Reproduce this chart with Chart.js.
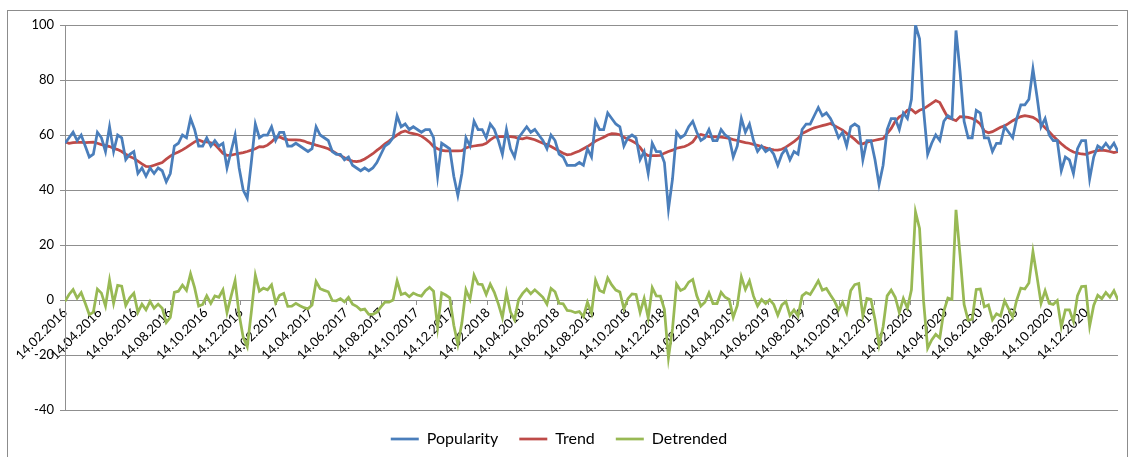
<!DOCTYPE html>
<html>
<head>
<meta charset="utf-8">
<script src="https://cdn.jsdelivr.net/npm/chart.js@4.4.1/dist/chart.umd.min.js"></script>
<style>
  html, body { margin: 0; padding: 0; background: #fff; }
  #wrap { position: relative; width: 1134px; height: 457px; }
  #frame { position: absolute; left: 7px; top: 10px; width: 1119px; height: 446px; border: 1px solid #8c8c8c; pointer-events: none; }
</style>
</head>
<body>
<div id="wrap">
  <canvas id="chart" width="1134" height="457"></canvas>
  <div id="frame"></div>
</div>
<script>
// weekly values, first week starts 14.02.2016
const startDate = Date.UTC(2016, 1, 14);

const popularity = [
  57,59,61,58,60,56,52,53,61,59, 54,63,54,60,59,51,53,54,46,48,
  45,48,46,48,47,43,46,56,57,60, 59,66,62,56,56,59,56,58,56,57,
  48,54,60,48,40,37,50,64,59,60, 60,63,58,61,61,56,56,57,56,55,
  54,55,63,60,59,58,54,53,53,51, 52,49,48,47,48,47,48,50,53,56,
  57,59,67,63,64,62,63,62,61,62, 62,59,45,57,56,55,45,38,46,59,
  56,65,62,62,59,64,62,58,53,62, 55,52,59,61,63,61,62,60,58,55,
  60,58,53,52,49,49,49,50,49,55, 52,65,62,62,68,66,64,63,56,59,
  60,59,51,54,46,57,54,54,50,33, 44,61,59,60,63,65,61,58,59,62,
  58,58,62,60,59,52,56,66,61,64, 58,54,56,54,55,53,49,53,55,51,
  54,53,62,64,64,67,70,67,68,66, 63,59,61,56,63,64,63,51,58,58,
  51,42,49,62,66,66,62,68,66,73, 100,95,69,53,57,60,58,65,67,66,
  98,83,65,59,59,69,68,59,59,54, 57,57,63,61,59,66,71,71,73,84,
  74,63,66,60,58,58,47,52,51,46, 55,58,58,44,52,56,55,57,55,57,
  54
];

const trend = [
  57.5,57,57.2,57.3,57.3,57.2,57.3,57.4,57,56.5, 56.2,55.8,55.2,54.7,54,53,52.2,51.5,50.5,49.5,
  48.6,48.5,49,49.5,50,51.2,52.3,53.2,53.8,54.6, 55.5,56.5,57.5,58.2,57.6,57.5,57.2,56.5,55,53.3,
  52.6,52.7,53,53.3,53.6,54,54.5,55,55.8,55.7, 56.3,57.5,59,59.3,58.6,58.3,58.2,58.2,58.1,57.8,
  57.2,56.8,56.3,55.9,55.5,55,54.2,53.3,52.5,51.7, 51,50.5,50.3,50.6,51.3,52.2,53.2,54.4,55.5,56.8,
  57.8,59,60,61,61.5,60.8,60.5,60.2,59.6,58.6, 57.4,55.8,55,54.4,54.2,54.2,54.2,54.2,54.3,55.3,
  55.8,56,56.2,56.4,57,58.2,59.2,59.4,59.4,59.4, 59.4,59.2,58.8,58.6,59,58.7,58.3,57.6,57,56.5,
  55.8,55,54.2,53.4,52.8,53,53.6,54.2,55,55.8, 56.8,57.8,58.5,59.2,60,60.5,60.4,60.1,59.2,58.5,
  57.8,57,55.5,53.4,52.5,52.5,52.5,52.6,53.4,54, 54.5,55.2,55.5,55.8,56.5,57.5,59.5,60.2,59.8,59.4,
  59.3,59.3,59.2,59,58.8,58.3,58,57.6,57.2,57, 56.6,56.2,55.8,55.3,54.9,54.6,54.5,54.8,55.6,56.6,
  57.6,58.8,60.5,61.3,62,62.6,63,63.4,63.8,64.2, 63.4,62.6,61.8,60.6,59.6,58.4,57,56.8,57.4,57.8,
  58.1,58.4,58.7,60.5,62.4,65,66.6,67.4,69,69.3, 68,69,69.5,70.5,71.5,72.5,71.8,69,66.3,65.8,
  65.2,66.7,66.6,66.4,66,65.2,64,61.5,60.8,61.2, 62,62.8,63.3,64.2,65.2,66,66.7,67,66.8,66.4,
  65.5,64.2,62.6,61.2,59.6,58.2,56.8,55.6,54.6,53.8, 53.4,53.1,53,53.5,54,54.3,54.5,54.3,54,53.6,
  54
];

const detrended = [
  -0.5,2,3.8,0.7,2.7,-1.2,-5.3,-4.4,4,2.5, -2.2,7.2,-1.2,5.3,5,-2,0.8,2.5,-4.5,-1.5,
  -3.6,-0.5,-3,-1.5,-3,-8.2,-6.3,2.8,3.2,5.4, 3.5,9.5,4.5,-2.2,-1.6,1.5,-1.2,1.5,1,3.7,
  -4.6,1.3,7,-5.3,-13.6,-17,-4.5,9,3.2,4.3, 3.7,5.5,-1,1.7,2.4,-2.3,-2.2,-1.2,-2.1,-2.8,
  -3.2,-1.8,6.7,4.1,3.5,3,-0.2,-0.3,0.5,-0.7, 1,-1.5,-2.3,-3.6,-3.3,-5.2,-5.2,-4.4,-2.5,-0.8,
  -0.8,0,7,2,2.5,1.2,2.5,1.8,1.4,3.4, 4.6,3.2,-10,2.6,1.8,0.8,-9.2,-16.2,-8.3,3.7,
  0.2,9,5.8,5.6,2,5.8,2.8,-1.4,-6.4,2.6, -4.4,-7.2,0.2,2.4,4,2.3,3.7,2.4,1,-1.5,
  4.2,3,-1.2,-1.4,-3.8,-4,-4.6,-4.2,-6,-0.8, -4.8,7.2,3.5,2.8,8,5.5,3.6,2.9,-3.2,0.5,
  2.2,2,-4.5,0.6,-6.5,4.5,1.5,1.4,-3.4,-21, -10.5,5.8,3.5,4.2,6.5,7.5,1.5,-2.2,-0.8,2.6,
  -1.3,-1.3,2.8,1,0.2,-6.3,-2,8.4,3.8,7, 1.4,-2.2,0.2,-1.3,0.1,-1.6,-5.5,-1.8,-0.6,-5.6,
  -3.6,-5.8,1.5,2.7,2,4.4,7,3.6,4.2,1.8, -0.4,-3.6,-0.8,-4.6,3.4,5.6,6,-5.8,0.6,0.2,
  -7.1,-16.4,-9.7,1.5,3.6,1,-4.6,0.6,-3,3.7, 32,26,-0.5,-17.5,-14.5,-12.5,-13.8,-4,0.7,0.2,
  32.8,16.3,-1.6,-7.4,-7,3.8,4,-2.5,-1.8,-7.2, -5,-5.8,-0.3,-3.2,-6.2,0,4.3,4,6.2,17.6,
  8.5,-1.2,3.4,-1.2,-1.6,-0.2,-9.8,-3.6,-3.6,-7.8, 1.6,4.9,5,-9.5,-2,1.7,0.5,2.7,1,3.4,
  0
];

const tickLabels = [
  "14.02.2016","14.04.2016","14.06.2016","14.08.2016","14.10.2016","14.12.2016",
  "14.02.2017","14.04.2017","14.06.2017","14.08.2017","14.10.2017","14.12.2017",
  "14.02.2018","14.04.2018","14.06.2018","14.08.2018","14.10.2018","14.12.2018",
  "14.02.2019","14.04.2019","14.06.2019","14.08.2019","14.10.2019","14.12.2019",
  "14.02.2020","14.04.2020","14.06.2020","14.08.2020","14.10.2020","14.12.2020"
];

// day offset of a dd.mm.yyyy label from the first week
function dayOf(label) {
  const [d, m, y] = label.split(".").map(Number);
  return (Date.UTC(y, m - 1, d) - startDate) / 86400000;
}
const tickDays = tickLabels.map(dayOf);
const toPoints = (arr) => arr.map((v, i) => ({ x: i * 7, y: v }));

const font = "Lato, 'Liberation Sans', sans-serif";
const gridColor = "#8f8f8f";

let ctx = document.getElementById("chart").getContext("2d");

const myChart = new Chart(ctx, {
  type: "line",
  data: {
    datasets: [
      { label: "Popularity", data: toPoints(popularity), borderColor: "#4a7ebb", backgroundColor: "#4a7ebb", borderWidth: 2.75, pointRadius: 0, pointStyle: "line" },
      { label: "Trend", data: toPoints(trend), borderColor: "#be4b48", backgroundColor: "#be4b48", borderWidth: 2.75, pointRadius: 0, pointStyle: "line" },
      { label: "Detrended", data: toPoints(detrended), borderColor: "#98b954", backgroundColor: "#98b954", borderWidth: 2.75, pointRadius: 0, pointStyle: "line" },
    ],
  },
  options: {
    responsive: false,
    animation: false,
    layout: { padding: { left: 0, right: 16, top: 25, bottom: 0 } },
    plugins: {
      legend: {
        position: "bottom",
        labels: {
          usePointStyle: true,
          pointStyleWidth: 28,
          padding: 21,
          color: "#000",
          font: { family: font, size: 16 },
        },
      },
      tooltip: { enabled: false },
    },
    scales: {
      x: {
        type: "linear",
        position: { y: 0 },
        min: 0,
        max: (popularity.length - 1) * 7,
        afterBuildTicks: (s) => { s.ticks = tickDays.map((v) => ({ value: v })); },
        afterFit: (s) => { s.paddingLeft = 0; s.paddingRight = 0; },
        grid: { drawOnChartArea: false, drawTicks: true, tickLength: 5, color: gridColor },
        border: { display: false },
        ticks: {
          autoSkip: false,
          minRotation: 45,
          maxRotation: 45,
          padding: 0,
          color: "#000",
          font: { family: font, size: 13 },
          callback: (v, i) => tickLabels[i],
        },
      },
      y: {
        min: -40,
        max: 100,
        afterFit: (s) => { s.width = 65; },
        ticks: { stepSize: 20, padding: 6, color: "#000", font: { family: font, size: 13 } },
        grid: { color: gridColor, tickLength: 5 },
        border: { color: gridColor },
      },
    },
  },
});
</script>
</body>
</html>
